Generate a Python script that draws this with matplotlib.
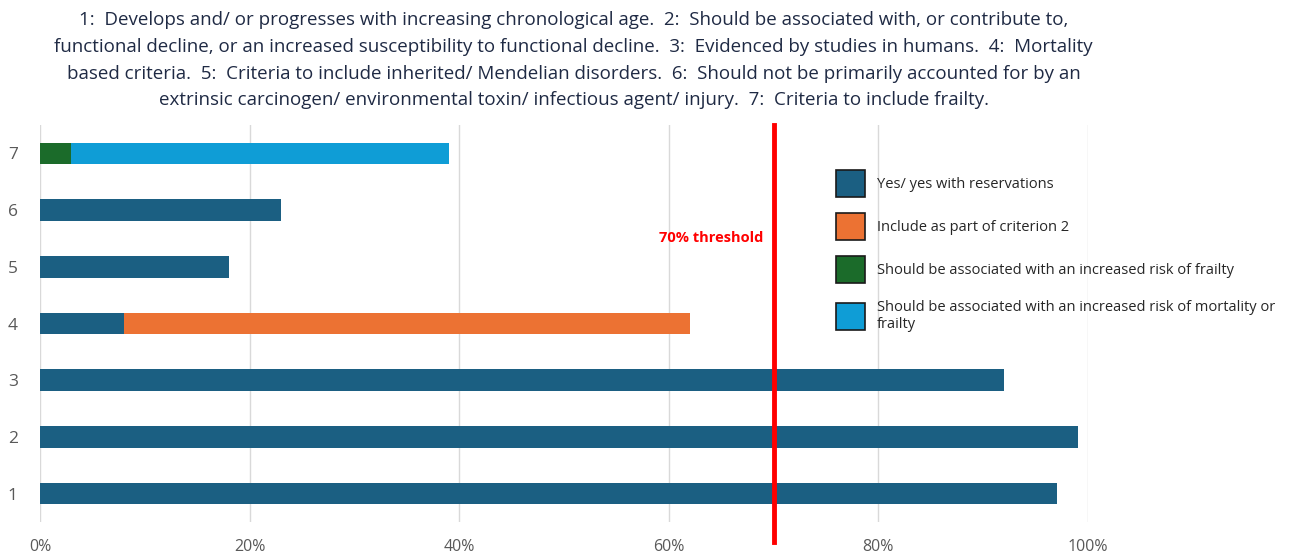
import numpy as np
import matplotlib
matplotlib.use('Agg')
import matplotlib.pyplot as plt
from matplotlib.patches import Patch

plt.rcParams['font.family'] = ['Open Sans', 'DejaVu Sans']

criteria = ['1', '2', '3', '4', '5', '6', '7']
yes_res = [97, 99, 92, 8, 18, 23, 0]
part_of_2 = [0, 0, 0, 54, 0, 0, 0]
risk_frailty = [0, 0, 0, 0, 0, 0, 3]
risk_mort_frailty = [0, 0, 0, 0, 0, 0, 36]
threshold = 70

series_names = ['Yes/ yes with reservations', 'Include as part of criterion 2',
                'Should be associated with an increased risk of frailty',
                'Should be associated with an increased risk of mortality or\nfrailty']
colores = ['#1b5f82', '#ec7233', '#1b6b2a', '#0f9dd6']

title = ('1:  Develops and/ or progresses with increasing chronological age.  2:  Should be associated with, or contribute to,\n'
         'functional decline, or an increased susceptibility to functional decline.  3:  Evidenced by studies in humans.  4:  Mortality\n'
         'based criteria.  5:  Criteria to include inherited/ Mendelian disorders.  6:  Should not be primarily accounted for by an\n'
         'extrinsic carcinogen/ environmental toxin/ infectious agent/ injury.  7:  Criteria to include frailty.')

fig = plt.figure(figsize=(12.89, 5.59), dpi=100)
ax = fig.add_axes([40/1289, 1 - 522/559, (1088-40)/1289, (522-125)/559])

y = np.arange(len(criteria))
left = np.zeros(len(criteria))
for vals, c in zip([yes_res, part_of_2, risk_frailty, risk_mort_frailty], colores):
    vals = np.array(vals, dtype=float)
    ax.barh(y, vals, left=left, height=0.38, color=c, edgecolor='none', zorder=2)
    left += vals

ax.set_xlim(0, 100)
ax.set_ylim(-0.5, 6.5)
ax.set_xticks([0, 20, 40, 60, 80, 100])
ax.set_xticklabels(['0%', '20%', '40%', '60%', '80%', '100%'])
ax.set_yticks(y)
ax.set_yticklabels(criteria)
ax.tick_params(axis='x', length=0, pad=12, labelsize=11.5, colors='#595959')
ax.tick_params(axis='y', length=0, pad=16, labelsize=12.5, colors='#595959')
ax.grid(True, axis='x', color='#d9d9d9', linewidth=1, zorder=0)
for s in ax.spines.values():
    s.set_visible(False)

ax.axvline(threshold, ymin=-0.05, ymax=1.0, color='#ff0000', linewidth=3.5, clip_on=False, zorder=4)
ax.text(threshold - 1.0, 4.5, '70% threshold', color='#ff0000', fontsize=10.5,
        fontweight='bold', ha='right', va='center')

handles = [Patch(facecolor=c, edgecolor='#1a1a1a', linewidth=1.2) for c in colores]
leg = fig.legend(handles, series_names, loc='upper left', bbox_to_anchor=(830/1289, 1 - 164/559),
                 frameon=False, fontsize=10.5, handlelength=2.0, handleheight=2.45,
                 labelspacing=1.13, handletextpad=0.8, borderaxespad=0)
for t in leg.get_texts():
    t.set_color('#262626')

fig.text(0.445, 1 - 11/559, title, ha='center', va='top', fontsize=13.5, color='#1f2a44',
         linespacing=1.63)

plt.savefig('out.png', dpi=100)
